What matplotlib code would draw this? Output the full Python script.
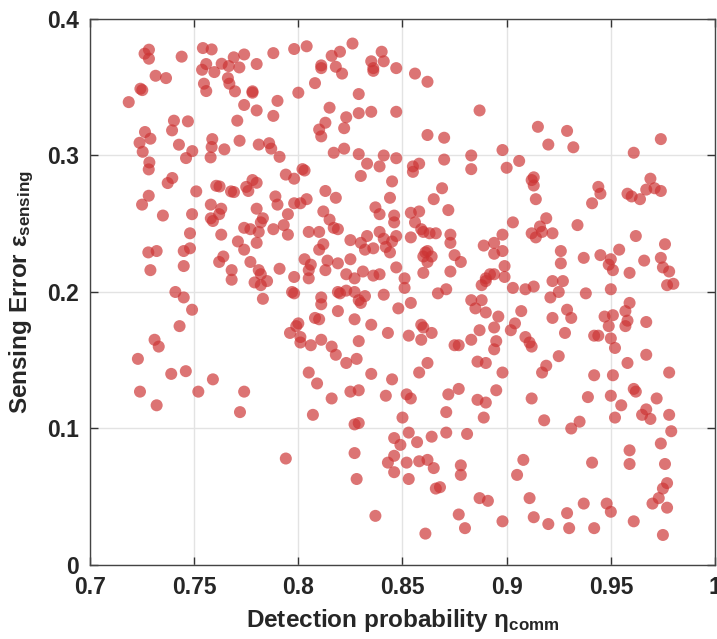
import numpy as np
import matplotlib
matplotlib.use("Agg")
import matplotlib.pyplot as plt

plt.rcParams["font.family"] = ["Liberation Sans", "DejaVu Sans"]
plt.rcParams["mathtext.fontset"] = "custom"
plt.rcParams["mathtext.rm"] = "Liberation Sans:bold"
plt.rcParams["mathtext.it"] = "Liberation Sans:bold"
plt.rcParams["mathtext.bf"] = "Liberation Sans:bold"

# samples, grouped by region (eta_comm, eps_sensing)
top_a_eta = [0.7283, 0.7262, 0.7283, 0.7440, 0.7542, 0.7584, 0.7690, 0.7558, 0.7538, 0.7632,
             0.7666, 0.7717, 0.7597, 0.7315, 0.7365, 0.7662, 0.7669, 0.7696, 0.7547, 0.7558,
             0.7242, 0.7251, 0.7186, 0.7403, 0.7470, 0.7394, 0.7707, 0.7264, 0.7290, 0.7238,
             0.7253, 0.7427, 0.7491, 0.7461, 0.7587, 0.7584, 0.7645, 0.7579, 0.7718, 0.7285,
             0.7282, 0.7395, 0.7373, 0.7510, 0.7606, 0.7622, 0.7677, 0.7691, 0.7282]
top_a_eps = [0.3775, 0.3746, 0.3709, 0.3724, 0.3787, 0.3777, 0.3719, 0.3670, 0.3628, 0.3672,
             0.3655, 0.3645, 0.3611, 0.3584, 0.3567, 0.3567, 0.3526, 0.3470, 0.3526, 0.3472,
             0.3489, 0.3479, 0.3391, 0.3255, 0.3250, 0.3184, 0.3255, 0.3172, 0.3123, 0.3093,
             0.3027, 0.3079, 0.3032, 0.2981, 0.3120, 0.3062, 0.3045, 0.2986, 0.3108, 0.2949,
             0.2898, 0.2835, 0.2798, 0.2737, 0.2778, 0.2773, 0.2737, 0.2732, 0.2705]

top_b_eta = [0.774, 0.780, 0.788, 0.798, 0.804, 0.816, 0.820, 0.826, 0.811, 0.811,
             0.818, 0.821, 0.835, 0.836, 0.836, 0.841, 0.840, 0.847, 0.808, 0.800,
             0.778, 0.778, 0.774, 0.790, 0.780, 0.788, 0.815, 0.823, 0.829, 0.835,
             0.847, 0.829, 0.813, 0.810, 0.811, 0.822, 0.781, 0.786, 0.787, 0.791,
             0.817, 0.822, 0.829, 0.841, 0.847, 0.833, 0.839, 0.802, 0.803, 0.794,
             0.798, 0.830, 0.845, 0.775, 0.778, 0.780, 0.776, 0.813, 0.818, 0.789,
             0.804, 0.844]
top_b_eps = [0.374, 0.367, 0.375, 0.378, 0.380, 0.373, 0.376, 0.382, 0.366, 0.364,
             0.365, 0.360, 0.369, 0.364, 0.362, 0.369, 0.376, 0.364, 0.353, 0.346,
             0.347, 0.346, 0.337, 0.340, 0.333, 0.329, 0.335, 0.328, 0.331, 0.332,
             0.332, 0.345, 0.324, 0.319, 0.314, 0.320, 0.308, 0.309, 0.305, 0.299,
             0.302, 0.305, 0.301, 0.300, 0.298, 0.294, 0.292, 0.290, 0.289, 0.286,
             0.283, 0.285, 0.281, 0.277, 0.282, 0.280, 0.274, 0.274, 0.269, 0.270,
             0.268, 0.269]

top_c_eta = [0.856, 0.862, 0.887, 0.862, 0.870, 0.883, 0.870, 0.858, 0.855, 0.855,
             0.883, 0.898, 0.906, 0.900, 0.915, 0.920, 0.913, 0.912, 0.913, 0.869,
             0.865, 0.914]
top_c_eps = [0.360, 0.354, 0.333, 0.315, 0.313, 0.300, 0.297, 0.294, 0.292, 0.288,
             0.290, 0.304, 0.296, 0.291, 0.321, 0.308, 0.284, 0.282, 0.278, 0.276,
             0.268, 0.268]

top_d_eta = [0.929, 0.932, 0.974, 0.961, 0.969, 0.944, 0.945, 0.967, 0.971, 0.974,
             0.958, 0.960, 0.964]
top_d_eps = [0.318, 0.306, 0.312, 0.302, 0.283, 0.277, 0.272, 0.275, 0.276, 0.274,
             0.272, 0.270, 0.268]

mid_a_eta = [0.725, 0.735, 0.749, 0.758, 0.758, 0.759, 0.762, 0.763, 0.748, 0.763,
             0.771, 0.728, 0.732, 0.745, 0.748, 0.745, 0.729, 0.762, 0.764, 0.768,
             0.768, 0.741, 0.745, 0.749, 0.743, 0.731, 0.733, 0.723, 0.739, 0.746,
             0.759]
mid_a_eps = [0.264, 0.256, 0.257, 0.264, 0.254, 0.252, 0.257, 0.261, 0.243, 0.242,
             0.237, 0.229, 0.230, 0.230, 0.232, 0.219, 0.216, 0.222, 0.226, 0.216,
             0.209, 0.200, 0.196, 0.187, 0.175, 0.165, 0.160, 0.151, 0.140, 0.142,
             0.136]

mid_b_eta = [0.780, 0.790, 0.798, 0.801, 0.774, 0.777, 0.781, 0.782, 0.783, 0.788,
             0.793, 0.795, 0.795, 0.780, 0.774, 0.777, 0.805, 0.810, 0.812, 0.815,
             0.817, 0.819, 0.812, 0.810, 0.803, 0.806, 0.805, 0.805, 0.791, 0.781,
             0.782, 0.779, 0.782, 0.785, 0.798, 0.814, 0.813, 0.819, 0.825, 0.825,
             0.830, 0.832, 0.836, 0.833, 0.837, 0.839, 0.846, 0.846, 0.839, 0.841,
             0.842, 0.844, 0.845, 0.847, 0.847, 0.823, 0.827, 0.831, 0.836, 0.839,
             0.797, 0.798, 0.783, 0.811, 0.811, 0.819, 0.820, 0.823, 0.827, 0.829,
             0.830, 0.832, 0.841, 0.848, 0.819, 0.808, 0.810, 0.827, 0.835, 0.843,
             0.800, 0.799, 0.796, 0.801, 0.801, 0.806, 0.811, 0.816, 0.818, 0.829,
             0.823, 0.828, 0.805, 0.809, 0.835, 0.845]
mid_b_eps = [0.261, 0.264, 0.265, 0.265, 0.247, 0.246, 0.244, 0.251, 0.254, 0.246,
             0.249, 0.257, 0.242, 0.236, 0.231, 0.222, 0.244, 0.244, 0.259, 0.253,
             0.247, 0.246, 0.235, 0.231, 0.224, 0.220, 0.216, 0.210, 0.217, 0.216,
             0.213, 0.207, 0.205, 0.208, 0.211, 0.223, 0.216, 0.221, 0.224, 0.238,
             0.236, 0.231, 0.232, 0.241, 0.262, 0.257, 0.256, 0.251, 0.244, 0.239,
             0.233, 0.229, 0.237, 0.241, 0.218, 0.213, 0.210, 0.215, 0.212, 0.213,
             0.200, 0.199, 0.195, 0.196, 0.191, 0.200, 0.199, 0.201, 0.200, 0.194,
             0.192, 0.197, 0.198, 0.188, 0.186, 0.181, 0.180, 0.180, 0.176, 0.170,
             0.177, 0.175, 0.170, 0.167, 0.163, 0.161, 0.165, 0.160, 0.154, 0.164,
             0.148, 0.151, 0.141, 0.133, 0.140, 0.136]

mid_c_eta = [0.872, 0.854, 0.858, 0.856, 0.859, 0.860, 0.863, 0.866, 0.873, 0.873,
             0.854, 0.861, 0.862, 0.860, 0.864, 0.862, 0.875, 0.878, 0.873, 0.860,
             0.851, 0.851, 0.867, 0.871, 0.889, 0.894, 0.898, 0.898, 0.894, 0.899,
             0.899, 0.890, 0.892, 0.894, 0.888, 0.890, 0.903, 0.909, 0.913, 0.903,
             0.912, 0.916, 0.919, 0.917, 0.922, 0.914, 0.922, 0.921, 0.883, 0.885,
             0.888, 0.890, 0.896, 0.894, 0.854, 0.859, 0.860, 0.853, 0.864, 0.859,
             0.887, 0.883, 0.895, 0.894, 0.875, 0.877, 0.907, 0.904, 0.902, 0.909,
             0.911, 0.912, 0.922, 0.862, 0.858, 0.886, 0.890, 0.898, 0.919, 0.917]
mid_c_eps = [0.260, 0.258, 0.259, 0.251, 0.246, 0.244, 0.243, 0.243, 0.242, 0.236,
             0.240, 0.229, 0.230, 0.226, 0.226, 0.222, 0.227, 0.222, 0.215, 0.214,
             0.210, 0.203, 0.199, 0.202, 0.234, 0.236, 0.242, 0.230, 0.228, 0.219,
             0.211, 0.210, 0.213, 0.213, 0.205, 0.208, 0.203, 0.202, 0.204, 0.251,
             0.243, 0.248, 0.254, 0.244, 0.243, 0.240, 0.208, 0.196, 0.194, 0.188,
             0.194, 0.185, 0.182, 0.174, 0.192, 0.176, 0.174, 0.168, 0.170, 0.165,
             0.172, 0.165, 0.164, 0.158, 0.161, 0.161, 0.186, 0.177, 0.172, 0.167,
             0.163, 0.160, 0.181, 0.148, 0.141, 0.149, 0.148, 0.141, 0.146, 0.141]

mid_d_eta = [0.941, 0.934, 0.962, 0.976, 0.926, 0.926, 0.937, 0.945, 0.950, 0.949,
             0.951, 0.954, 0.959, 0.966, 0.974, 0.975, 0.978, 0.977, 0.980, 0.927,
             0.925, 0.938, 0.950, 0.959, 0.957, 0.951, 0.947, 0.958, 0.957, 0.949,
             0.967, 0.929, 0.931, 0.928, 0.942, 0.944, 0.950, 0.952, 0.925, 0.967,
             0.958, 0.942, 0.951, 0.978]
mid_d_eps = [0.265, 0.249, 0.241, 0.235, 0.230, 0.221, 0.225, 0.227, 0.224, 0.220,
             0.216, 0.231, 0.214, 0.223, 0.225, 0.218, 0.215, 0.205, 0.206, 0.208,
             0.200, 0.199, 0.202, 0.192, 0.186, 0.183, 0.182, 0.179, 0.175, 0.175,
             0.178, 0.187, 0.181, 0.170, 0.168, 0.168, 0.166, 0.159, 0.153, 0.154,
             0.148, 0.139, 0.139, 0.141]

low_a_eta = [0.724, 0.752, 0.732, 0.772]
low_a_eps = [0.127, 0.127, 0.117, 0.112]

low_b_eta = [0.774, 0.816, 0.825, 0.829, 0.842, 0.807, 0.827, 0.829, 0.846, 0.849,
             0.794, 0.827, 0.846, 0.843, 0.846, 0.828, 0.837]
low_b_eps = [0.127, 0.122, 0.127, 0.128, 0.124, 0.110, 0.103, 0.104, 0.093, 0.088,
             0.078, 0.082, 0.080, 0.075, 0.068, 0.063, 0.036]

low_c_eta = [0.852, 0.854, 0.872, 0.877, 0.895, 0.886, 0.890, 0.871, 0.889, 0.850,
             0.912, 0.918, 0.853, 0.857, 0.864, 0.871, 0.881, 0.852, 0.858, 0.862,
             0.865, 0.853, 0.878, 0.878, 0.866, 0.868, 0.887, 0.891, 0.877, 0.880,
             0.861, 0.898, 0.908, 0.905, 0.911, 0.913, 0.920]
low_c_eps = [0.125, 0.122, 0.125, 0.129, 0.128, 0.121, 0.119, 0.112, 0.108, 0.108,
             0.122, 0.106, 0.097, 0.090, 0.094, 0.097, 0.096, 0.075, 0.076, 0.077,
             0.071, 0.063, 0.073, 0.066, 0.056, 0.057, 0.049, 0.047, 0.037, 0.027,
             0.023, 0.032, 0.077, 0.066, 0.049, 0.035, 0.030]

low_d_eta = [0.961, 0.962, 0.939, 0.950, 0.955, 0.952, 0.972, 0.967, 0.965, 0.969,
             0.978, 0.935, 0.931, 0.979, 0.974, 0.959, 0.959, 0.941, 0.976, 0.977,
             0.975, 0.973, 0.970, 0.977, 0.937, 0.948, 0.950, 0.929, 0.961, 0.930,
             0.942, 0.975]
low_d_eps = [0.129, 0.127, 0.123, 0.124, 0.117, 0.108, 0.122, 0.114, 0.110, 0.107,
             0.110, 0.105, 0.100, 0.098, 0.089, 0.084, 0.074, 0.075, 0.074, 0.060,
             0.056, 0.049, 0.045, 0.042, 0.045, 0.045, 0.039, 0.038, 0.032, 0.027,
             0.027, 0.022]

x_ticks = [0.7, 0.75, 0.8, 0.85, 0.9, 0.95, 1.0]
x_ticklabels = ["0.7", "0.75", "0.8", "0.85", "0.9", "0.95", "1"]
y_ticks = [0, 0.1, 0.2, 0.3, 0.4]
y_ticklabels = ["0", "0.1", "0.2", "0.3", "0.4"]

eta = np.concatenate([top_a_eta, top_b_eta, top_c_eta, top_d_eta,
                      mid_a_eta, mid_b_eta, mid_c_eta, mid_d_eta,
                      low_a_eta, low_b_eta, low_c_eta, low_d_eta])
eps = np.concatenate([top_a_eps, top_b_eps, top_c_eps, top_d_eps,
                      mid_a_eps, mid_b_eps, mid_c_eps, mid_d_eps,
                      low_a_eps, low_b_eps, low_c_eps, low_d_eps])

fig = plt.figure(figsize=(7.17, 6.39), dpi=100)
ax = fig.add_axes([0.1255, 0.1158, 0.8717, 0.8545])

ax.scatter(eta, eps, s=75, color="#cc3333", alpha=0.68, edgecolors="none", zorder=3)

ax.set_xlim(0.7, 1.0)
ax.set_ylim(0, 0.4)
ax.set_xticks(x_ticks)
ax.set_xticklabels(x_ticklabels)
ax.set_yticks(y_ticks)
ax.set_yticklabels(y_ticklabels)

ax.grid(True, color="#e3e3e3", lw=1.0, zorder=0)
ax.set_axisbelow(True)
ax.tick_params(direction="in", top=True, right=True, length=6, width=1,
               color="#333333", labelsize=16.5, pad=8)
for lab in ax.get_xticklabels() + ax.get_yticklabels():
    lab.set_fontweight("bold")
    lab.set_color("#262626")
for sp in ax.spines.values():
    sp.set_color("#444444")
    sp.set_linewidth(1.0)

ax.set_xlabel(r"Detection probability $\eta_{comm}$", fontsize=17.5,
              fontweight="bold", color="#262626", labelpad=6)
ax.set_ylabel(r"Sensing Error $\epsilon_{sensing}$", fontsize=17.5,
              fontweight="bold", color="#262626", labelpad=8)

fig.savefig("out.png", dpi=100)
